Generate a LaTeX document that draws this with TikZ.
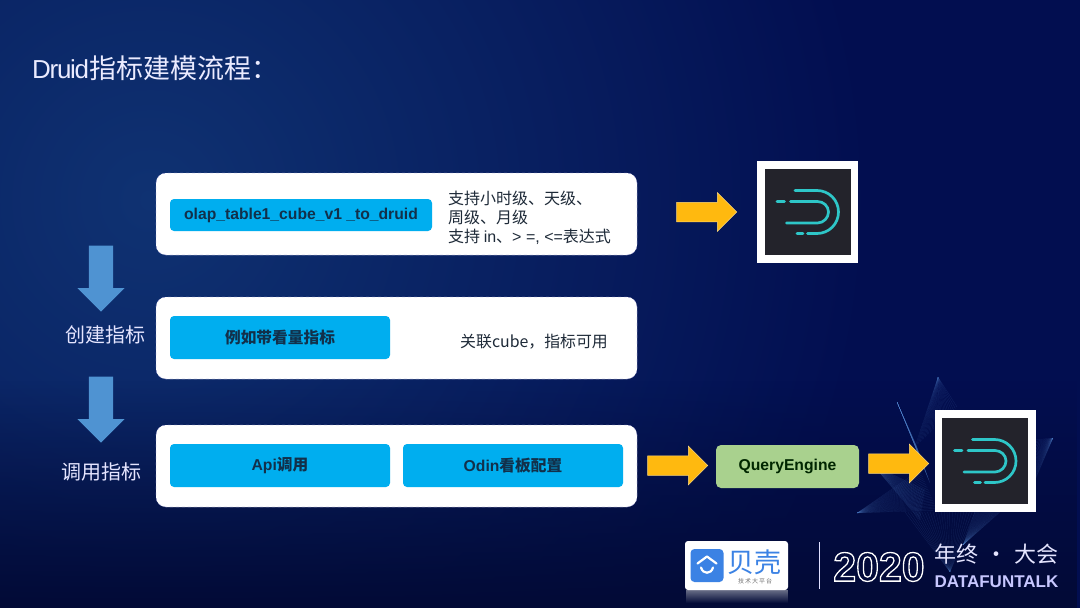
\documentclass[tikz,border=0pt]{standalone}
\usepackage{fontspec}
\setmainfont{Liberation Sans}
\newfontfamily\cjk{Noto Sans CJK SC}
\usetikzlibrary{shapes.arrows,fadings,calc}
\definecolor{bgbase}{HTML}{020E50}
\definecolor{bglight}{HTML}{0F3272}
\definecolor{bgdark}{HTML}{020A36}
\definecolor{labelblue}{HTML}{00AEEF}
\definecolor{labeltext}{HTML}{12304A}
\definecolor{bodytext}{HTML}{1E2A38}
\definecolor{amber}{HTML}{FFB90F}
\definecolor{amberedge}{HTML}{FFD878}
\definecolor{downblue}{HTML}{4F93D2}
\definecolor{qegreen}{HTML}{A9D18E}
\definecolor{druidbg}{HTML}{23232B}
\definecolor{druidteal}{HTML}{2EC6C8}
\definecolor{beike}{HTML}{3B82E4}
\definecolor{starblue}{HTML}{5B8FD8}
\newcommand{\fz}[1]{\fontsize{#1}{#1}\selectfont}
\newcommand{\fan}[3]{\foreach \t in {0,0.04,...,1.001}{\draw[fanline] (#1) -- ($(#2)!\t!(#3)$);}}
\tikzset{
  whitebox/.style={fill=white,draw=black!45!blue!40,dashed,line width=.4pt,rounded corners=10pt,inner sep=0pt,minimum width=481pt,minimum height=82pt},
  bluelabel/.style={fill=labelblue,rounded corners=4pt,inner sep=0pt,minimum width=220pt,minimum height=43pt,text=labeltext,font=\fz{15.7}\bfseries},
  sidelabel/.style={text=white!90!blue,inner sep=0pt,font=\cjk\fz{20}},
  yellowarrow/.style={single arrow,anchor=tip,fill=amber,draw=amberedge,line width=.5pt,inner sep=9.5pt,single arrow head extend=9.5pt,minimum height=60pt},
  bluearrow/.style={single arrow,anchor=tip,fill=downblue,inner sep=12pt,single arrow head extend=11.5pt,minimum height=66pt,shape border rotate=270},
  fanline/.style={draw=starblue,line width=.2pt,opacity=.2},
  pics/druidicon/.style={code={
    \fill[white] (-50.5,-51) rectangle (50.5,51);
    \fill[druidbg] (-43,-43) rectangle (43,43);
    \draw[druidteal,line width=2.7pt,line cap=round]
      (-12.5,-21.5) -- (9.5,-21.5) .. controls (21.4,-21.5) and (31,-11.9) .. (31,0)
      .. controls (31,11.9) and (21.4,21.5) .. (9.5,21.5) -- (0,21.5);
    \draw[druidteal,line width=2.7pt,line cap=round]
      (-17,-10.5) -- (10,-10.5) .. controls (16,-10.5) and (21,-5.8) .. (21,0)
      .. controls (21,5.8) and (16,11) .. (10,11) -- (-21,11);
    \draw[druidteal,line width=2.7pt,line cap=round] (-30.5,-10.5) -- (-23,-10.5);
    \draw[druidteal,line width=2.7pt,line cap=round] (-10.5,21.5) -- (-4.5,21.5);
  }}
}
\begin{document}
\begin{tikzpicture}[x=1pt,y=-1pt]
\useasboundingbox (0,0) rectangle (1080,608);
% background
\begin{scope}
\clip (0,0) rectangle (1080,608);
\fill[bgbase] (0,0) rectangle (1080,608);
\shade[inner color=bglight,outer color=bgbase] (150,200) circle (720);
\fill[bgdark,path fading=north] (0,380) rectangle (1080,608);
% star decoration
\fan{938,377}{915,447}{957,407}
\fan{897,402}{917,447}{930,483}
\fan{857,513}{920,470}{937,510}
\fan{873,465}{925,490}{920,520}
\fan{950,572}{905,512}{975,512}
\fan{1053,438}{1035,440}{1035,480}
\fan{963,545}{975,512}{1000,512}
\end{scope}
% title
\node[anchor=west,inner sep=0pt,text=white!92!blue] (title) at (32,68) {\fz{26}\addfontfeature{LetterSpace=-5}Druid\cjk\fz{27}指标建模流程：};
% side arrows and labels
\node[bluearrow] (down1) at (101,312) {};
\node[sidelabel] (create) at (105,335) {创建指标};
\node[bluearrow] (down2) at (101,443) {};
\node[sidelabel] (call) at (101,472) {调用指标};
% rows
\node[whitebox] (row1) at (396.5,214) {};
\node[whitebox] (row2) at (396.5,338) {};
\node[whitebox] (row3) at (396.5,466) {};
\node[bluelabel,minimum width=262pt,minimum height=32pt] (olap) at (301,215) {\raisebox{-1.5pt}{olap\_table1\_cube\_v1 \_to\_druid}};
\node[bluelabel] (dk) at (280,337.5) {\cjk\raisebox{-1pt}{例如带看量指标}};
\node[bluelabel] (api) at (280,465.5) {\raisebox{-1pt}{Api{\cjk 调用}}};
\node[bluelabel] (odin) at (513,465.5) {\raisebox{-1pt}{Odin{\cjk 看板配置}}};
\node[anchor=north west,align=left,inner sep=0pt,text=bodytext,font=\cjk\fz{16}] (t1) at (448,191) {支持小时级、天级、\\[3pt]周级、月级\\[3pt]支持 {\rmfamily in}、{\rmfamily > =, <=}表达式};
\node[anchor=west,inner sep=0pt,text=bodytext,font=\cjk\fz{15.9}] (t2) at (460,341.5) {关联cube，指标可用};
% arrows and druid icons
\node[yellowarrow] (ya1) at (737,212) {};
\pic at (807.5,212) {druidicon};
\node[yellowarrow] (ya2) at (708,465.5) {};
\node[fill=qegreen,rounded corners=5pt,inner sep=0pt,minimum width=143pt,minimum height=43pt,text=black!85!green,font=\fz{15.7}\bfseries] (qe) at (787.5,466.5) {\raisebox{-1pt}{QueryEngine}};
\node[yellowarrow] (ya3) at (929,463.5) {};
\pic at (985,461) {druidicon};
% footer logos
\fill[white!40!bgdark,path fading=south] (686,590) rectangle (788,603);
\node[fill=white,rounded corners=3pt,inner sep=0pt,minimum width=103pt,minimum height=49pt] (beikebox) at (736.5,565.5) {};
\node[fill=beike,rounded corners=4pt,inner sep=0pt,minimum width=33pt,minimum height=33pt] (beikeicon) at (707,565.5) {};
\draw[white,line width=2.2pt,line join=round,line cap=round] (697.5,563.5) -- (707,556.5) -- (716.5,563.5);
\draw[white,line width=2.2pt,line cap=round] (701,567.5) .. controls (703,574.5) and (711,574.5) .. (713,567.5);
\node[inner sep=0pt,text=beike,font=\cjk\fz{27}] (beikename) at (754.5,562) {贝壳};
\node[inner sep=0pt,text=black!55,font=\cjk\fz{6}] (beikesub) at (755,581) {技\,术\,大\,平\,台};
\node[fill=white!88!blue,inner sep=0pt,minimum width=1.6pt,minimum height=47pt] (vline) at (819.5,565.5) {};
\node[inner sep=0pt,text=white,font=\fz{41}\bfseries] (year) at (879,567) {\special{pdf:code 1 Tr 1.3 w 1 1 1 RG}2020\special{pdf:code 0 Tr}};
\node[inner sep=0pt,text=white!90!blue,font=\cjk\fz{22}] (conf) at (996.5,554.5) {年终\,\,·\,\,大会};
\node[inner sep=0pt,text=white!78!blue,font=\fz{17}\bfseries] (dft) at (996.5,581.5) {DATAFUNTALK};
\end{tikzpicture}
\end{document}
